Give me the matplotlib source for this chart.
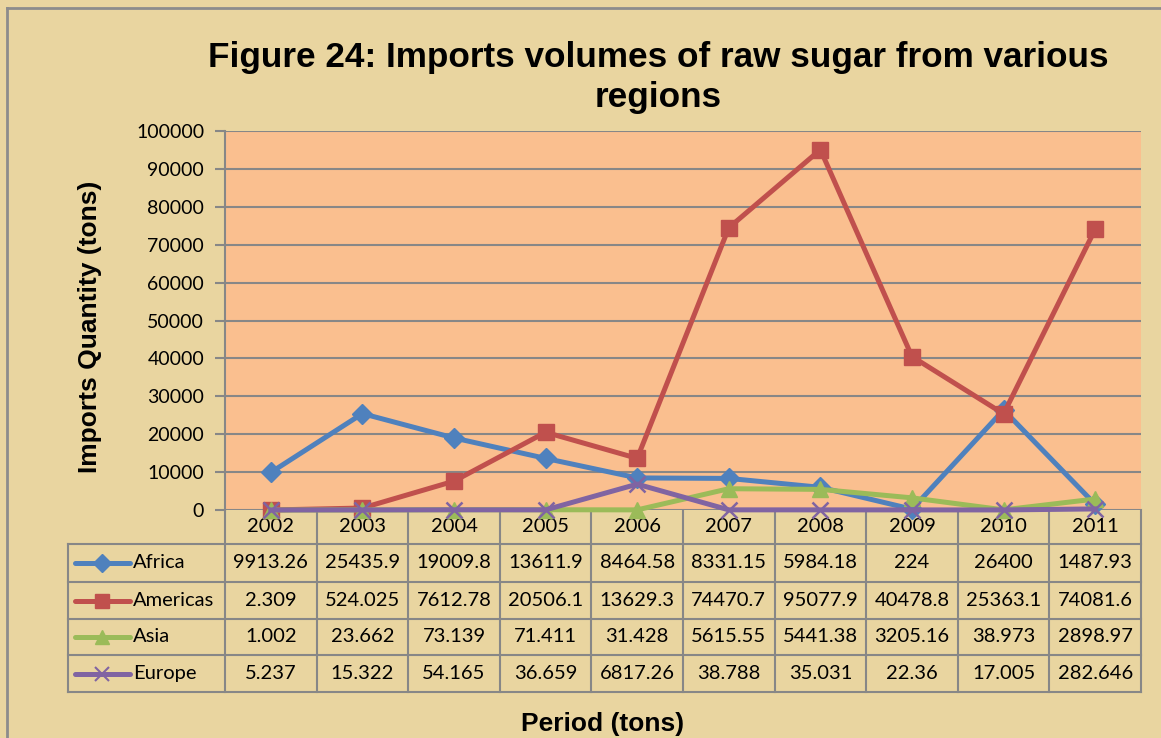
import numpy as np
import matplotlib.pyplot as plt
from matplotlib.lines import Line2D

years = ['2002', '2003', '2004', '2005', '2006', '2007', '2008', '2009', '2010', '2011']
regions = ['Africa', 'Americas', 'Asia', 'Europe']
africa = [9913.26, 25435.9, 19009.8, 13611.9, 8464.58, 8331.15, 5984.18, 224, 26400, 1487.93]
americas = [2.309, 524.025, 7612.78, 20506.1, 13629.3, 74470.7, 95077.9, 40478.8, 25363.1, 74081.6]
asia = [1.002, 23.662, 73.139, 71.411, 31.428, 5615.55, 5441.38, 3205.16, 38.973, 2898.97]
europe = [5.237, 15.322, 54.165, 36.659, 6817.26, 38.788, 35.031, 22.36, 17.005, 282.646]
series = [africa, americas, asia, europe]
colors = ['#4F81BD', '#C0504D', '#9BBB59', '#8064A2']
markers = ['D', 's', '^', 'x']
msizes = [10.5, 11.5, 11.5, 11.5]

W, H = 1161, 738
grey = '#878787'
num_font = 'Lato'

def box(l, t, r, b):
    return [l / W, 1 - b / H, (r - l) / W, (b - t) / H]

fig = plt.figure(figsize=(W / 100, H / 100), dpi=100, facecolor='#E9D5A0')

# plot area
ax = fig.add_axes(box(225, 131, 1141, 510), zorder=3)
ax.set_facecolor('#FABF8F')
x = np.arange(len(years))
for vals, c, m, ms in zip(series, colors, markers, msizes):
    ax.plot(x, vals, color=c, lw=3.6, marker=m, ms=ms, mew=1.8 if m == 'x' else 1,
            mec=c, mfc=c, clip_on=False, zorder=4)
ax.set_xlim(-0.5, 9.5)
ax.set_ylim(0, 100000)
ax.set_yticks(np.arange(0, 100001, 10000))
ax.set_yticklabels([str(v) for v in range(0, 100001, 10000)], fontsize=14, family=num_font)
ax.set_xticks([])
ax.yaxis.grid(True, color=grey, lw=1.5)
ax.set_axisbelow(True)
for s in ['top', 'right', 'bottom']:
    ax.spines[s].set_visible(False)
ax.spines['left'].set_color(grey)
ax.spines['left'].set_linewidth(1.5)
ax.tick_params(axis='y', length=7, width=1.5, color=grey, pad=8)

# data table
colw = 916 / 10
xl = -0.5 - (225 - 68) / colw
tax = fig.add_axes(box(68, 510, 1141, 692), zorder=1)
tax.axis('off')
tax.set_xlim(xl, 9.5)
tax.set_ylim(692, 510)
row_edges = [544, 582, 619, 655, 692]
for y in row_edges:
    tax.plot([xl, 9.5], [y, y], color=grey, lw=1.5, clip_on=False)
tax.plot([xl, xl], [544, 692], color=grey, lw=1.5, clip_on=False)
for k in range(11):
    tax.plot([k - 0.5, k - 0.5], [510, 692], color=grey, lw=1.5, clip_on=False)
for i, yr in enumerate(years):
    tax.text(i, 527, yr, ha='center', va='center', fontsize=14.5, family=num_font)

def px(p):
    return xl + (p - 68) / colw

for r, (name, vals, c, m, ms) in enumerate(zip(regions, series, colors, markers, msizes)):
    yc = (row_edges[r] + row_edges[r + 1]) / 2
    tax.plot([px(75), px(130)], [yc, yc], color=c, lw=3.6, solid_capstyle='round')
    tax.plot([px(102)], [yc], color=c, marker=m, ms=ms * 0.85, mew=1.5 if m == 'x' else 1)
    tax.text(px(133), yc, name, ha='left', va='center', fontsize=14.5, family=num_font)
    for i, v in enumerate(vals):
        tax.text(i, yc, f'{v:g}' if v >= 1000 or v == 224 else str(v), ha='center',
                 va='center', fontsize=14.5, family=num_font)

# titles
fig.text(658 / W, 1 - 58 / H, 'Figure 24: Imports volumes of raw sugar from various',
         ha='center', va='center', fontsize=25.3, fontweight='bold', family='Liberation Sans')
fig.text(658 / W, 1 - 98 / H, 'regions', ha='center', va='center', fontsize=25.3,
         fontweight='bold', family='Liberation Sans')
fig.text(90 / W, 1 - 327 / H, 'Imports Quantity (tons)', rotation=90, ha='center', va='center',
         fontsize=19, fontweight='bold', family='Liberation Sans')
fig.text(603 / W, 1 - 724 / H, 'Period (tons)', ha='center', va='center', fontsize=19,
         fontweight='bold', family='Liberation Sans')

# chart border
fig.add_artist(Line2D([7 / W, 7 / W], [0, 1 - 8 / H], color='#8C8C8C', lw=2))
fig.add_artist(Line2D([7 / W, 1], [1 - 8 / H, 1 - 8 / H], color='#8C8C8C', lw=2))

fig.savefig('out.png', dpi=100, facecolor=fig.get_facecolor())
